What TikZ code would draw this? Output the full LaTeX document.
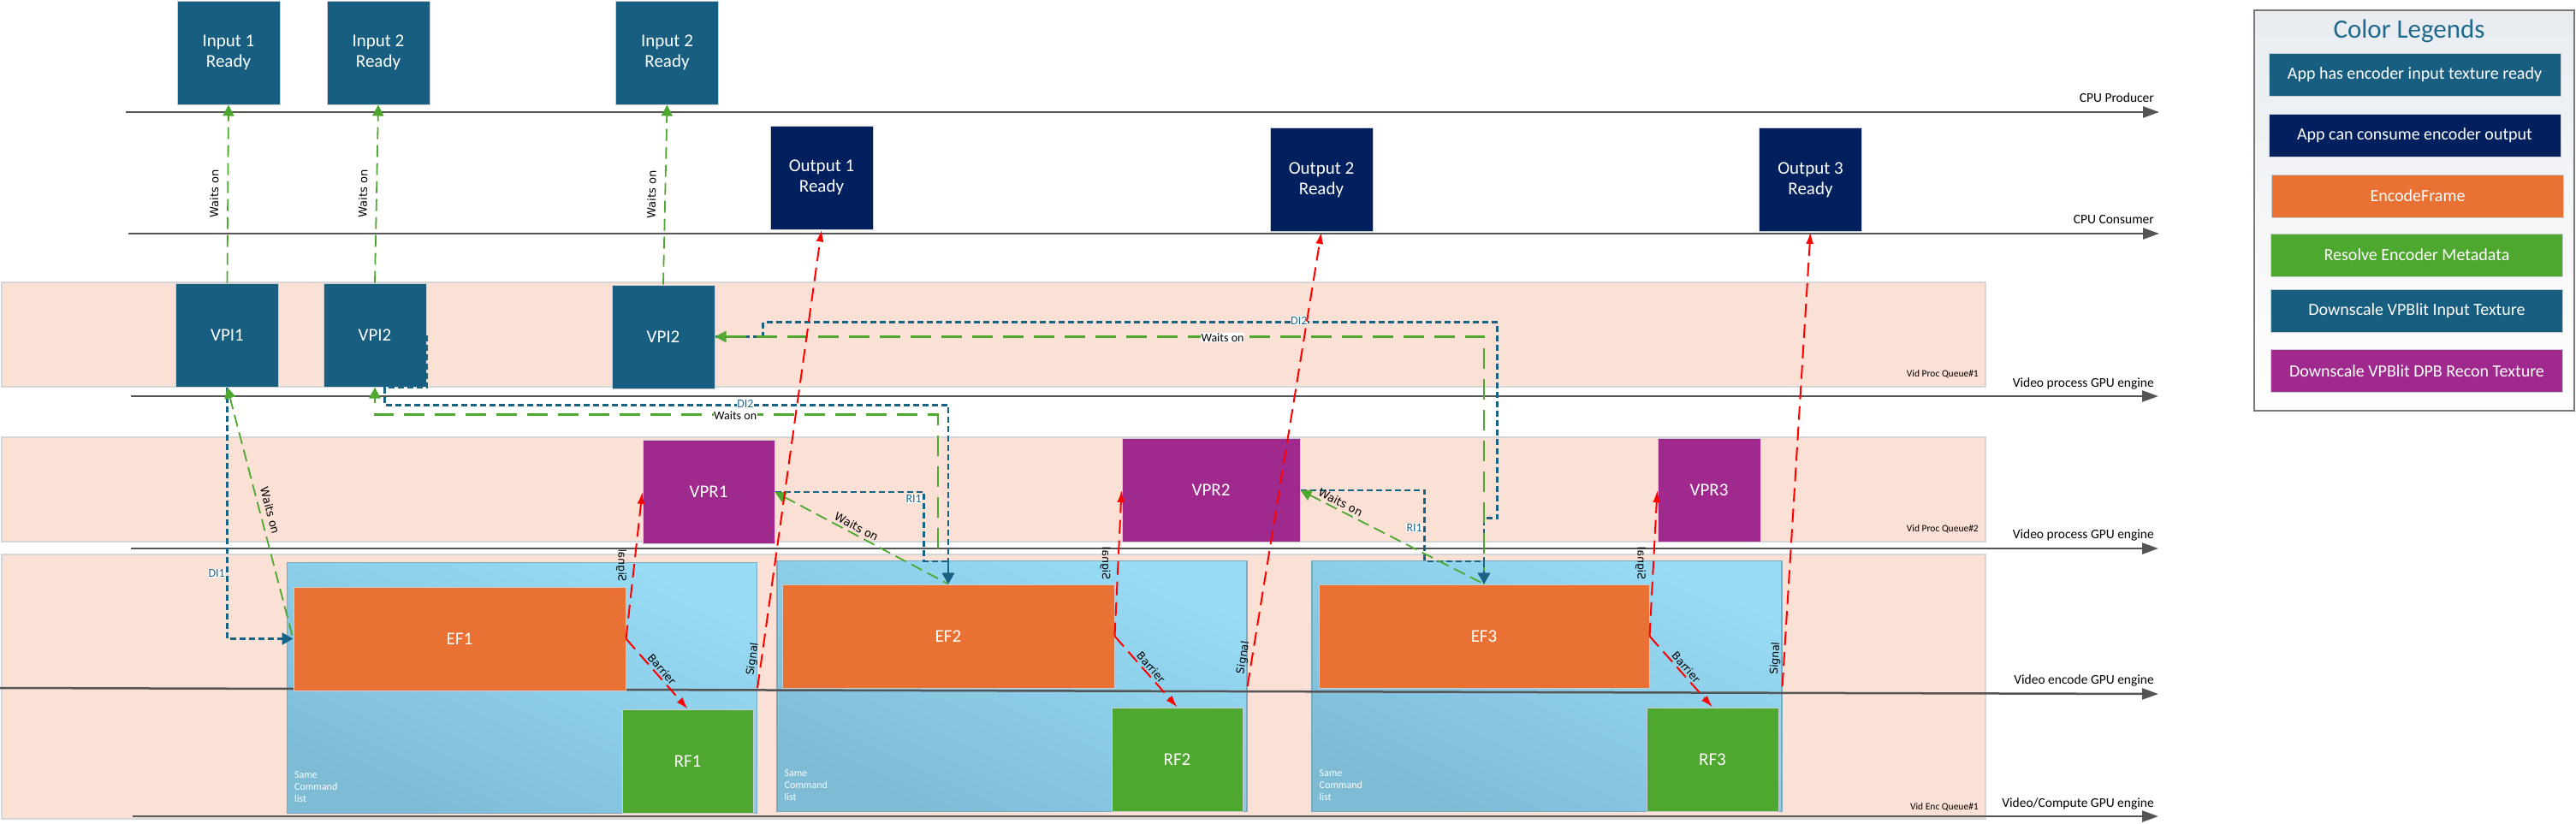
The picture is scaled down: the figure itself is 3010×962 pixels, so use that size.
\documentclass[tikz,border=0pt]{standalone}
\usepackage{fontspec}
\setmainfont{Carlito}
\newfontfamily\vfont{DejaVu Sans}
\usetikzlibrary{arrows.meta}

\definecolor{boxteal}{RGB}{23,94,128}
\definecolor{boxnavy}{RGB}{2,32,94}
\definecolor{eforange}{RGB}{232,113,51}
\definecolor{rfgreen}{RGB}{78,167,46}
\definecolor{vprpurple}{RGB}{160,41,142}
\definecolor{lanefill}{RGB}{250,224,213}
\definecolor{laneedge}{RGB}{214,214,214}
\definecolor{cltop}{RGB}{152,219,245}
\definecolor{clbot}{RGB}{126,188,214}
\definecolor{cledge}{RGB}{120,170,196}
\definecolor{boxedge}{RGB}{200,206,212}
\definecolor{linegrey}{RGB}{85,85,85}
\definecolor{depblue}{RGB}{24,98,132}
\definecolor{waitgreen}{RGB}{78,167,46}
\definecolor{labteal}{RGB}{31,105,140}
\definecolor{legtop}{RGB}{232,236,240}

\tikzset{
  taskbox/.style={rectangle, draw=boxedge, line width=1pt, inner sep=0pt, text=white, align=center, font=\fontsize{21}{24}\selectfont},
  inbox/.style={taskbox, fill=boxteal, minimum width=120pt, minimum height=121pt},
  outbox/.style={taskbox, fill=boxnavy, minimum width=120pt, minimum height=121pt},
  efbox/.style={taskbox, fill=eforange, minimum width=388pt, minimum height=121pt},
  rfbox/.style={taskbox, fill=rfgreen, minimum width=153pt, minimum height=121pt},
  vprbox/.style={taskbox, fill=vprpurple, minimum height=121pt},
  cmdlist/.style={rectangle, draw=cledge, line width=1.2pt, top color=cltop, bottom color=clbot, shading angle=-25, minimum width=549pt, minimum height=293pt},
  cltext/.style={anchor=south west, inner sep=0pt, align=left, text=white!95!cltop, font=\fontsize{12}{14}\selectfont},
  lane/.style={fill=lanefill, draw=laneedge, line width=1.5pt},
  engline/.style={draw=linegrey, line width=2.5pt, -{Triangle[length=19pt,width=13pt]}},
  englab/.style={anchor=base east, inner sep=0pt, font=\fontsize{15.5}{18}\selectfont},
  queuelab/.style={anchor=base east, inner sep=0pt, font=\fontsize{11.5}{13}\selectfont},
  waitg/.style={draw=waitgreen, line width=1.8pt, dash pattern=on 14pt off 7pt, >={Triangle[length=13pt,width=13pt]}},
  waith/.style={draw=waitgreen, line width=2.6pt, dash pattern=on 24pt off 12pt, >={Triangle[length=13pt,width=13pt]}},
  dep/.style={draw=depblue, line width=2.4pt, dash pattern=on 7pt off 4pt, >={Triangle[length=13pt,width=14pt]}},
  sig/.style={draw=red, line width=2pt, dash pattern=on 16pt off 8pt, >={Latex[length=14pt,width=9pt]}},
  vlab/.style={inner sep=2pt, font=\vfont\fontsize{13}{15}\selectfont},
  slab/.style={inner sep=2pt, font=\vfont\fontsize{12.5}{15}\selectfont},
  wlab/.style={fill=white, inner sep=0.5pt, font=\fontsize{14}{16}\selectfont},
  dilab/.style={fill=white, inner sep=0.5pt, text=labteal, font=\fontsize{14}{16}\selectfont},
  legent/.style={taskbox, minimum width=341pt, minimum height=50pt, font=\fontsize{20}{24}\selectfont}
}

\begin{document}
\begin{tikzpicture}[x=1pt,y=-1pt]
\useasboundingbox (0,0) rectangle (3010,962);

\draw[lane] (2,330) rectangle (2320,452);
\draw[lane] (2,511) rectangle (2320,633);
\draw[lane] (2,648) rectangle (2320,957);

\draw[engline] (147,131) -- (2523,131);
\draw[engline] (150,273) -- (2523,273);
\draw[engline] (153,463) -- (2522,463);
\draw[engline] (153,641) -- (2522,641);
\draw[engline] (155,954) -- (2522,954);
\node[englab] (lprod) at (2517,119) {CPU Producer};
\node[englab] (lcons) at (2517,261) {CPU Consumer};
\node[englab] (lvp1) at (2517,452) {Video process GPU engine};
\node[englab] (lvp2) at (2517,629) {Video process GPU engine};
\node[englab] (lenc) at (2517,799) {Video encode GPU engine};
\node[englab] (lvc) at (2517,943) {Video/Compute GPU engine};
\node[queuelab] (q1) at (2312,440) {Vid Proc Queue\#1};
\node[queuelab] (q2) at (2312,621) {Vid Proc Queue\#2};
\node[queuelab] (q3) at (2312,946) {Vid Enc Queue\#1};

\node[cmdlist] (cl1) at (610,804) {};
\node[cmdlist] (cl2) at (1182.5,802) {};
\node[cmdlist] (cl3) at (1807.5,802) {};
\node[cltext] (cl1t) at ([shift={(9,-13)}]cl1.south west) {Same\\Command\\list};
\node[cltext] (cl2t) at ([shift={(9,-13)}]cl2.south west) {Same\\Command\\list};
\node[cltext] (cl3t) at ([shift={(9,-13)}]cl3.south west) {Same\\Command\\list};
\draw[engline] (0,804) -- (2522,811);

\node[inbox] (in1) at (267,61.5) {Input 1\\Ready};
\node[inbox] (in2) at (442,61.5) {Input 2\\Ready};
\node[inbox] (in3) at (779.5,61.5) {Input 2\\Ready};
\node[outbox] (out1) at (960,207.5) {Output 1\\Ready};
\node[outbox] (out2) at (1544,210) {Output 2\\Ready};
\node[outbox] (out3) at (2115.5,210) {Output 3\\Ready};
\node[inbox] (vpi1) at (265.5,391.5) {VPI1};
\node[inbox] (vpi2) at (438,391.5) {VPI2};
\node[inbox] (vpi3) at (775,393.5) {VPI2};
\node[vprbox, minimum width=154pt] (vpr1) at (828,575) {VPR1};
\node[vprbox, minimum width=208pt] (vpr2) at (1415,573) {VPR2};
\node[vprbox, minimum width=120pt] (vpr3) at (1997,573) {VPR3};
\node[efbox] (ef1) at (537,746.5) {EF1};
\node[efbox] (ef2) at (1108,743.5) {EF2};
\node[efbox, minimum width=386pt] (ef3) at (1734,743.5) {EF3};
\node[rfbox] (rf1) at (803.5,889.5) {RF1};
\node[rfbox] (rf2) at (1375.5,887.5) {RF2};
\node[rfbox, minimum width=154pt] (rf3) at (2001,887.5) {RF3};

\draw[waitg,->] (vpi1.north) -- node[vlab, sloped, above=8pt] (w1) {Waits on} (in1.south);
\draw[waitg,->] (vpi2.north) -- node[vlab, sloped, above=8pt] (w2) {Waits on} (in2.south);
\draw[waitg,->] (vpi3.north) -- node[vlab, sloped, above=8pt] (w3) {Waits on} (in3.south);

\draw[dep,->] (vpi1.south) |- node[pos=0.37, left=1pt, dilab] (di1) {DI1} (ef1.west);
\draw[waitg,<-] (vpi1.south) -- node[vlab, sloped, above=4pt] (w4) {Waits on} (ef1.west);

\draw[dep,->] (vpi2.east) -- (vpi2.south east) -- ++(-49,0) -- ++(0,21) -| node[pos=0.32, yshift=2pt, dilab] (di2) {DI2} (ef2.north);
\draw[waith,->] ([shift={(-12,-42)}]ef2.north) |- node[pos=0.68, yshift=-1pt, wlab] (w5) {Waits on} ([shift={(0,32)}]vpi2.south) -- (vpi2.south);

\draw[dep,->] (vpi3.east) -- ++(56,0) -- ++(0,-17) -- node[pos=0.73, yshift=2pt, dilab] (di3) {DI2} ++(858,0) -- ++(0,229) -| (ef3.north);
\draw[waith,<-] (vpi3.east) -| node[pos=0.33, yshift=-1pt, wlab] (w6) {Waits on} (ef3.north);

\draw[dep,->] (vpr1.east) -- ++(174,0) -- node[pos=0.1, left=1pt, dilab] (ri1) {RI1} ++(0,81) -| (ef2.north);
\draw[waitg,<-] (vpr1.east) -- node[pos=0.45, vlab, sloped, above=1pt] (w7) {Waits on} (ef2.north);
\draw[dep,->] (vpr2.east) -- ++(145,0) -- node[pos=0.53, left=1pt, dilab] (ri2) {RI1} ++(0,83) -| (ef3.north);
\draw[waitg,<-] (vpr2.east) -- node[pos=0.2, vlab, sloped, above=1pt] (w8) {Waits on} (ef3.north);

\draw[sig,->] (ef1.east) -- node[pos=0.5, xshift=-15pt, slab, rotate=-90, xscale=-1] (s1) {Signal} (vpr1.west);
\draw[sig,->] (ef2.east) -- node[pos=0.5, xshift=-15pt, slab, rotate=-90, xscale=-1] (s2) {Signal} (vpr2.west);
\draw[sig,->] (ef3.east) -- node[pos=0.5, xshift=-15pt, slab, rotate=-90, xscale=-1] (s3) {Signal} (vpr3.west);
\draw[sig,->] (ef1.east) -- node[pos=0.5, slab, sloped, above] (b1) {Barrier} (rf1.north);
\draw[sig,->] (ef2.east) -- node[pos=0.5, slab, sloped, above] (b2) {Barrier} (rf2.north);
\draw[sig,->] (ef3.east) -- node[pos=0.5, slab, sloped, above] (b3) {Barrier} (rf3.north);
\draw[sig,->] (cl1.east) -- node[pos=0.06, slab, sloped, above=1pt] (s4) {Signal} (out1.south);
\draw[sig,->] (cl2.east) -- node[pos=0.06, slab, sloped, above=1pt] (s5) {Signal} (out2.south);
\draw[sig,->] (cl3.east) -- node[pos=0.06, slab, sloped, above=1pt] (s6) {Signal} (out3.south);

\node[rectangle, draw=linegrey!80, line width=1.5pt, top color=legtop, bottom color=white, minimum width=374pt, minimum height=468pt] (legend) at (2821,246) {};
\node[text=labteal, font=\fontsize{31}{36}\selectfont] (legtitle) at (2815,36) {Color Legends};
\node[legent, fill=boxteal] (leg1) at (2821.5,87) {App has encoder input texture ready};
\node[legent, fill=boxnavy] (leg2) at (2821.5,158) {App can consume encoder output};
\node[legent, fill=eforange] (leg3) at (2825,229) {EncodeFrame};
\node[legent, fill=rfgreen] (leg4) at (2824,298) {Resolve Encoder Metadata};
\node[legent, fill=boxteal] (leg5) at (2824,363) {Downscale VPBlit Input Texture};
\node[legent, fill=vprpurple] (leg6) at (2824,433.5) {Downscale VPBlit DPB Recon Texture};
\end{tikzpicture}
\end{document}
